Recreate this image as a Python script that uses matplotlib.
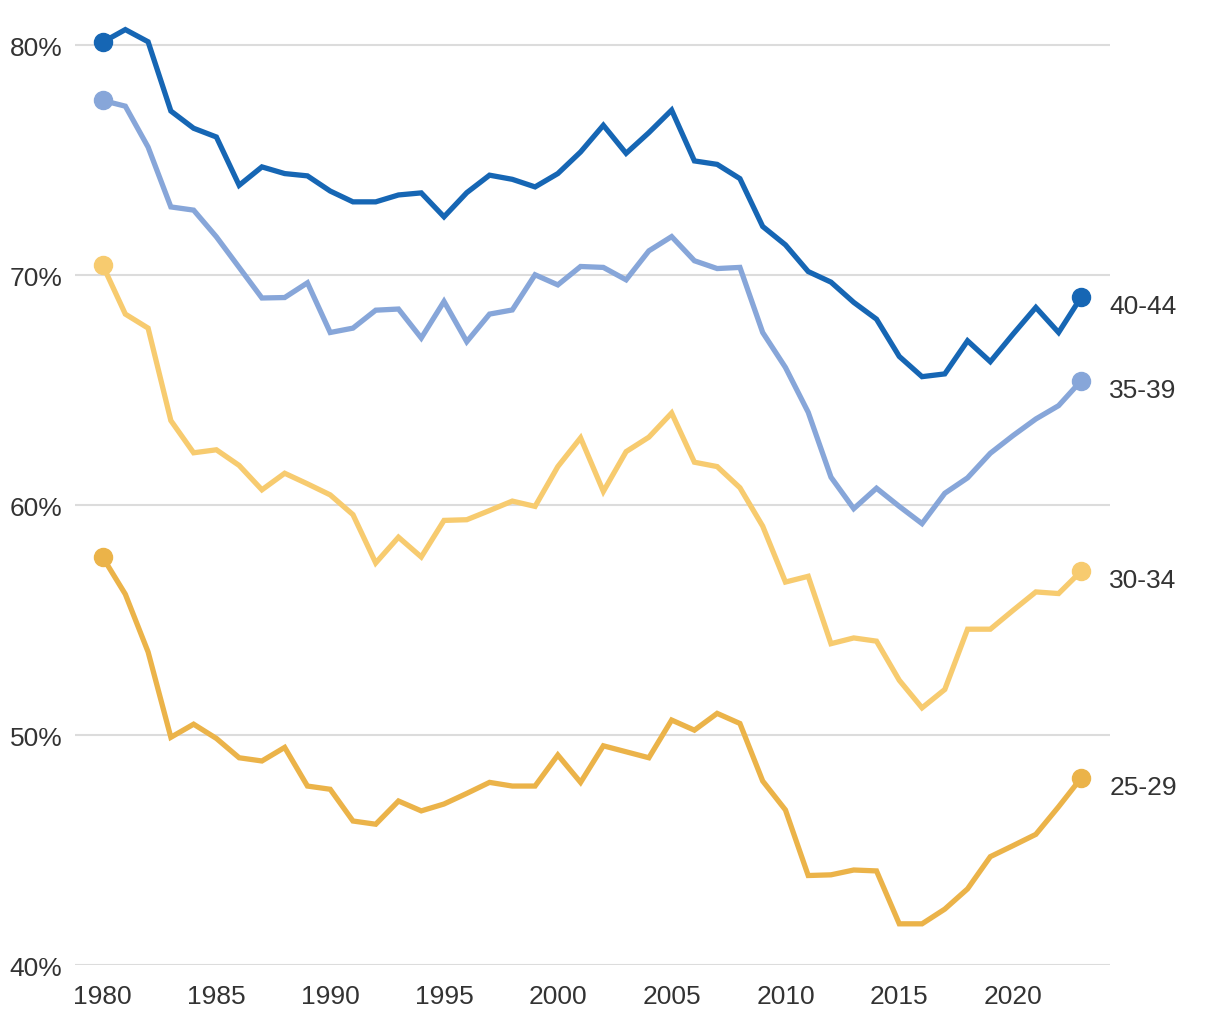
import matplotlib.pyplot as plt

plt.rcParams['font.family'] = ['Liberation Sans', 'DejaVu Sans']

years = list(range(1980, 2024))

## share of each age group (%)
age_40_44 = [80.14, 80.69, 80.16, 77.15, 76.40, 76.02, 73.92, 74.72, 74.43, 74.33,
             73.67, 73.20, 73.20, 73.50, 73.59, 72.55, 73.60, 74.36, 74.18, 73.85,
             74.43, 75.37, 76.53, 75.31, 76.21, 77.19, 74.98, 74.83, 74.21, 72.13,
             71.33, 70.17, 69.71, 68.83, 68.10, 66.48, 65.60, 65.72, 67.16, 66.25,
             67.45, 68.61, 67.52, 69.07]
age_35_39 = [77.61, 77.36, 75.58, 72.98, 72.84, 71.68, 70.35, 69.02, 69.04, 69.68,
             67.52, 67.71, 68.49, 68.54, 67.28, 68.87, 67.12, 68.32, 68.50, 70.03,
             69.59, 70.39, 70.35, 69.81, 71.07, 71.69, 70.64, 70.30, 70.35, 67.52,
             66.00, 64.05, 61.23, 59.86, 60.75, 59.96, 59.21, 60.53, 61.20, 62.27,
             63.04, 63.76, 64.34, 65.43]
age_30_34 = [70.46, 68.32, 67.71, 63.69, 62.29, 62.42, 61.74, 60.68, 61.40, 60.94,
             60.46, 59.60, 57.50, 58.62, 57.76, 59.35, 59.38, 59.78, 60.19, 59.96,
             61.69, 62.94, 60.61, 62.34, 62.97, 64.02, 61.88, 61.69, 60.77, 59.10,
             56.67, 56.92, 53.99, 54.24, 54.10, 52.40, 51.20, 52.00, 54.62, 54.62,
             55.44, 56.24, 56.17, 57.15]
age_25_29 = [57.76, 56.14, 53.63, 49.92, 50.49, 49.87, 49.03, 48.89, 49.48, 47.80,
             47.66, 46.28, 46.14, 47.15, 46.72, 47.02, 47.48, 47.96, 47.80, 47.80,
             49.15, 47.96, 49.55, 49.29, 49.03, 50.67, 50.23, 50.96, 50.52, 48.02,
             46.76, 43.91, 43.94, 44.15, 44.11, 41.81, 41.81, 42.45, 43.33, 44.73,
             45.21, 45.70, 46.90, 48.16]

series = [("40-44", age_40_44, "#1666b4"),
          ("35-39", age_35_39, "#87a6d9"),
          ("30-34", age_30_34, "#f7cb6f"),
          ("25-29", age_25_29, "#ebb349")]

xticks = [1980, 1985, 1990, 1995, 2000, 2005, 2010, 2015, 2020]
yticks = [40, 50, 60, 70, 80]
ytick_labels = ["40%", "50%", "60%", "70%", "80%"]

fig = plt.figure(figsize=(12.2, 10.2), dpi=100)
ax = fig.add_axes([0.0615, 0.0525, 0.848, 0.9245])

for name, vals, col in series:
    ax.plot(years, vals, color=col, linewidth=3.8, solid_joinstyle='miter', zorder=3, clip_on=False)
    ax.plot([years[0], years[-1]], [vals[0], vals[-1]], 'o', color=col, markersize=13, zorder=4, clip_on=False)
    ax.annotate(name, xy=(years[-1], vals[-1]), xytext=(20, -6.5), textcoords='offset points',
                fontsize=19, color='#333333', va='center', ha='left', annotation_clip=False)

ax.set_xlim(1978.79, 2024.24)
ax.set_ylim(40, 81)
ax.set_xticks(xticks)
ax.set_yticks(yticks)
ax.set_yticklabels(ytick_labels)
ax.grid(axis='y', color='#dcdcdc', linewidth=1.5, zorder=0)
ax.tick_params(axis='both', length=0, labelsize=19, labelcolor='#333333')
ax.tick_params(axis='x', pad=13)
ax.tick_params(axis='y', pad=9)
for s in ax.spines.values():
    s.set_visible(False)

plt.savefig("out.png", dpi=100)
